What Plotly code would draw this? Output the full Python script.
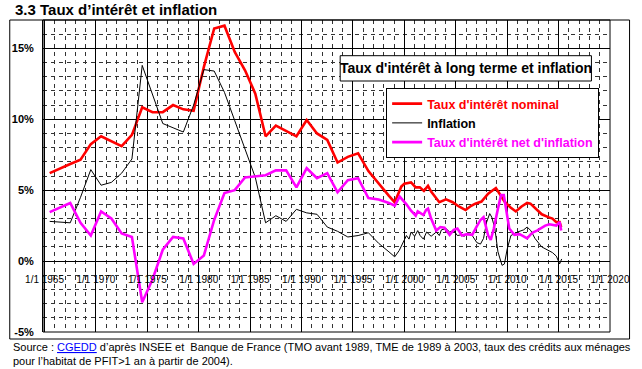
import plotly.graph_objects as go

# ---------------- data ----------------
annual_years = list(range(1965, 1999))
nominal_annual = [6.2, 6.55, 6.85, 7.15, 8.25, 8.8, 8.45, 8.1, 8.9, 10.85,
                  10.5, 10.5, 11.0, 10.7, 10.6, 13.7, 16.4, 16.6, 14.75, 13.45,
                  11.8, 8.8, 9.55, 9.15, 8.8, 9.95, 9.0, 8.55, 6.95, 7.35,
                  7.6, 6.35, 5.45, 4.6]
inflation_annual = [2.8, 2.75, 2.7, 4.5, 6.45, 5.35, 5.55, 6.2, 7.2, 13.8,
                    11.8, 9.7, 9.4, 9.1, 11.0, 13.5, 13.4, 11.9, 9.9, 7.9,
                    5.9, 2.7, 3.2, 2.8, 3.65, 3.4, 3.3, 2.4, 2.1, 1.7,
                    1.8, 2.0, 1.25, 0.65]
net_annual = [3.45, 3.8, 4.1, 2.7, 1.8, 3.5, 3.0, 1.95, 1.7, -2.9,
              -1.3, 0.8, 1.7, 1.6, -0.2, 0.4, 2.9, 4.8, 5.0, 5.9,
              5.95, 6.05, 6.4, 6.4, 5.2, 6.55, 5.85, 6.2, 4.85, 5.7,
              5.85, 4.45, 4.35, 4.1]

nominal_recent_x = [1999.06, 1999.4, 1999.7, 2000.0, 2000.65, 2001.1, 2001.5, 2001.9,
                    2002.3, 2002.6, 2003.0, 2003.4, 2004.05, 2004.7, 2005.3, 2005.95,
                    2006.5, 2006.9, 2007.5, 2008.15, 2008.6, 2008.9, 2009.26, 2009.73,
                    2010.3, 2010.84, 2011.4, 2011.94, 2012.26, 2012.8, 2013.36, 2014.0,
                    2014.4, 2014.78, 2015.1, 2015.25]
nominal_recent = [4.15, 4.8, 5.25, 5.45, 5.55, 5.2, 5.2, 4.95,
                  5.3, 4.9, 4.5, 4.15, 4.35, 4.15, 3.85, 3.6,
                  3.9, 4.05, 4.2, 4.75, 5.0, 5.15, 4.75, 4.2,
                  3.8, 3.5, 3.85, 4.1, 4.05, 3.65, 3.3, 3.1,
                  3.0, 2.75, 2.75, 2.4]

inflation_recent_x = [1999.06, 1999.5, 1999.86, 2000.2, 2000.45, 2000.65, 2001.0, 2001.3,
                      2001.53, 2001.85, 2002.16, 2002.4, 2002.6, 2003.1, 2003.4, 2003.6,
                      2004.05, 2004.4, 2004.8, 2005.16, 2005.5, 2005.8, 2006.2, 2006.6,
                      2007.05, 2007.4, 2007.7, 2008.0, 2008.3, 2008.5, 2008.8, 2009.1,
                      2009.5, 2009.73, 2010.0, 2010.36, 2011.0, 2011.6, 2011.94, 2012.3,
                      2012.7, 2013.36, 2014.0, 2014.4, 2014.78, 2015.1, 2015.3]
inflation_recent = [0.3, 0.75, 1.35, 1.8, 1.55, 2.05, 1.75, 2.15,
                    1.8, 1.55, 2.05, 1.85, 1.75, 2.05, 1.8, 2.2,
                    2.3, 2.05, 2.15, 1.8, 1.85, 1.75, 1.9, 1.8,
                    1.3, 1.2, 1.6, 2.75, 3.35, 3.1, 2.3, 0.65,
                    -0.3, -0.2, 0.85, 1.8, 2.05, 2.2, 2.4, 2.15,
                    1.6, 1.0, 0.75, 0.6, 0.35, -0.2, 0.15]

net_recent_x = [1999.06, 1999.54, 2000.2, 2000.65, 2001.1, 2001.3, 2001.53, 2001.85,
                2002.1, 2002.3, 2002.6, 2003.1, 2003.5, 2003.9, 2004.4, 2004.8,
                2005.16, 2005.6, 2006.1, 2006.6, 2007.0, 2007.4, 2007.7, 2007.84,
                2008.15, 2008.4, 2008.7, 2009.1, 2009.4, 2009.67, 2009.9, 2010.2,
                2010.7, 2011.2, 2011.6, 2011.94, 2012.3, 2012.57, 2012.9, 2013.3,
                2013.7, 2014.1, 2014.46, 2014.78, 2015.1, 2015.25]
net_recent = [3.9, 4.55, 4.0, 3.55, 3.2, 3.5, 3.4, 3.25,
              3.6, 3.7, 3.0, 2.15, 2.4, 2.35, 1.85, 2.2,
              2.3, 1.8, 1.9, 1.85, 2.4, 2.9, 3.1, 2.65,
              1.8, 1.5, 2.3, 3.7, 4.65, 4.65, 3.7, 2.3,
              1.85, 1.9, 1.75, 1.6, 1.9, 2.05, 2.15, 2.35,
              2.5, 2.6, 2.55, 2.5, 2.75, 2.15]

x_tick_vals = [1965, 1970, 1975, 1980, 1985, 1990, 1995, 2000, 2005, 2010, 2015, 2020]
x_tick_text = ["1/1 1965", "1/1 1970", "1/1 1975", "1/1 1980", "1/1 1985", "1/1 1990",
               "1/1 1995", "1/1 2000", "1/1 2005", "1/1 2010", "1/1 2015", "1/1 2020"]
y_tick_vals = [-5, 0, 5, 10, 15]
y_tick_text = ["-5%", "0%", "5%", "10%", "15%"]

series_names = ["Taux d'intérêt nominal", "Inflation", "Taux d'intérêt net d'inflation"]
series_colors = ["#FF0000", "#000000", "#FF00FF"]

title_text = "3.3 Taux d’intérêt et inflation"
box_title = "Taux d'intérêt à long terme et inflation"
source_text = ("Source : <span style=\"color:#0000FF;text-decoration:underline\">CGEDD</span> "
               "d’après INSEE et \u00a0Banque de France (TMO avant 1989, TME de 1989 à 2003, "
               "taux des crédits aux ménages<br>pour l’habitat de PFIT&gt;1 an à partir de 2004).")

FONT = "Liberation Sans, Arial, sans-serif"

# ---------------- build ----------------
mid_year = [y + 0.5 for y in annual_years]
xs = [mid_year + nominal_recent_x, mid_year + inflation_recent_x, mid_year + net_recent_x]
ys = [nominal_annual + nominal_recent, inflation_annual + inflation_recent,
      net_annual + net_recent]
widths = [2.6, 1, 2.6]

fig = go.Figure()
for name, color, x, y, w in zip(series_names, series_colors, xs, ys, widths):
    fig.add_trace(go.Scatter(
        x=x, y=y, mode="lines",
        name=f'<span style="color:{color}">{name}</span>',
        line=dict(color=color, width=w),
        hoverinfo="skip",
    ))

# plot area geometry in pixels
L, R, T, B = 35, 615, 20, 332
W, H = R - L, B - T


def px_x(p):
    return (p - L) / W


def px_y(p):
    return (B - p) / H


fig.update_layout(
    width=642, height=369,
    margin=dict(l=L, r=642 - R, t=T, b=369 - B, pad=0),
    paper_bgcolor="white", plot_bgcolor="white",
    font=dict(family=FONT, color="black"),
    showlegend=True,
    legend=dict(
        x=px_x(386), y=px_y(88), xanchor="left", yanchor="top",
        bgcolor="white", bordercolor="black", borderwidth=1,
        font=dict(family=FONT, size=12.5, weight="bold"),
        itemwidth=30, tracegroupgap=0,
    ),
    xaxis=dict(
        range=[1964.85, 2020], tickmode="array", tickvals=x_tick_vals, ticktext=x_tick_text,
        showgrid=True, gridcolor="black", gridwidth=1, zeroline=False,
        anchor="free", position=5 / 22, ticks="", showline=False,
        tickfont=dict(family=FONT, size=10, color="black"),
        ticklabelstandoff=11,
        minor=dict(tickmode="linear", tick0=1965, dtick=1, showgrid=True,
                   gridcolor="#333333", griddash="4px,4px", gridwidth=1),
    ),
    yaxis=dict(
        range=[-5, 17], tickmode="array", tickvals=y_tick_vals, ticktext=y_tick_text,
        showgrid=True, gridcolor="black", gridwidth=1, zeroline=False,
        showline=True, linecolor="black", linewidth=1, ticks="",
        tickfont=dict(family=FONT, size=11, color="black", weight="bold"),
        ticklabelstandoff=6,
        minor=dict(tickmode="linear", tick0=0, dtick=1, showgrid=True,
                   gridcolor="#333333", griddash="4px,4px", gridwidth=1),
    ),
    shapes=[
        # plot-area border
        dict(type="rect", xref="paper", yref="paper", x0=0, x1=1, y0=0, y1=1,
             line=dict(color="black", width=1), layer="above"),
        # outer chart frame
        dict(type="rect", xref="paper", yref="paper",
             x0=px_x(1), x1=px_x(635), y0=px_y(339), y1=px_y(20),
             line=dict(color="black", width=1), layer="above"),
        # inner title box
        dict(type="rect", xref="paper", yref="paper",
             x0=px_x(339), x1=px_x(596), y0=px_y(81), y1=px_y(55.7),
             line=dict(color="black", width=1), fillcolor="white", layer="above"),
    ],
    annotations=[
        dict(text=f"<b>{title_text}</b>", xref="paper", yref="paper",
             x=px_x(4), y=px_y(10), xanchor="left", yanchor="middle",
             showarrow=False, font=dict(family=FONT, size=15, color="black")),
        dict(text=f"<b>{box_title}</b>", xref="paper", yref="paper",
             x=px_x(467.5), y=px_y(68.3), xanchor="center", yanchor="middle",
             showarrow=False, font=dict(family=FONT, size=14, color="black")),
        dict(text=source_text, xref="paper", yref="paper",
             x=px_x(2), y=px_y(354), xanchor="left", yanchor="middle", align="left",
             showarrow=False, font=dict(family=FONT, size=11, color="black")),
    ],
)

fig.write_html("out.html", config={"displayModeBar": False},
               post_script="document.body.style.margin='0';")
